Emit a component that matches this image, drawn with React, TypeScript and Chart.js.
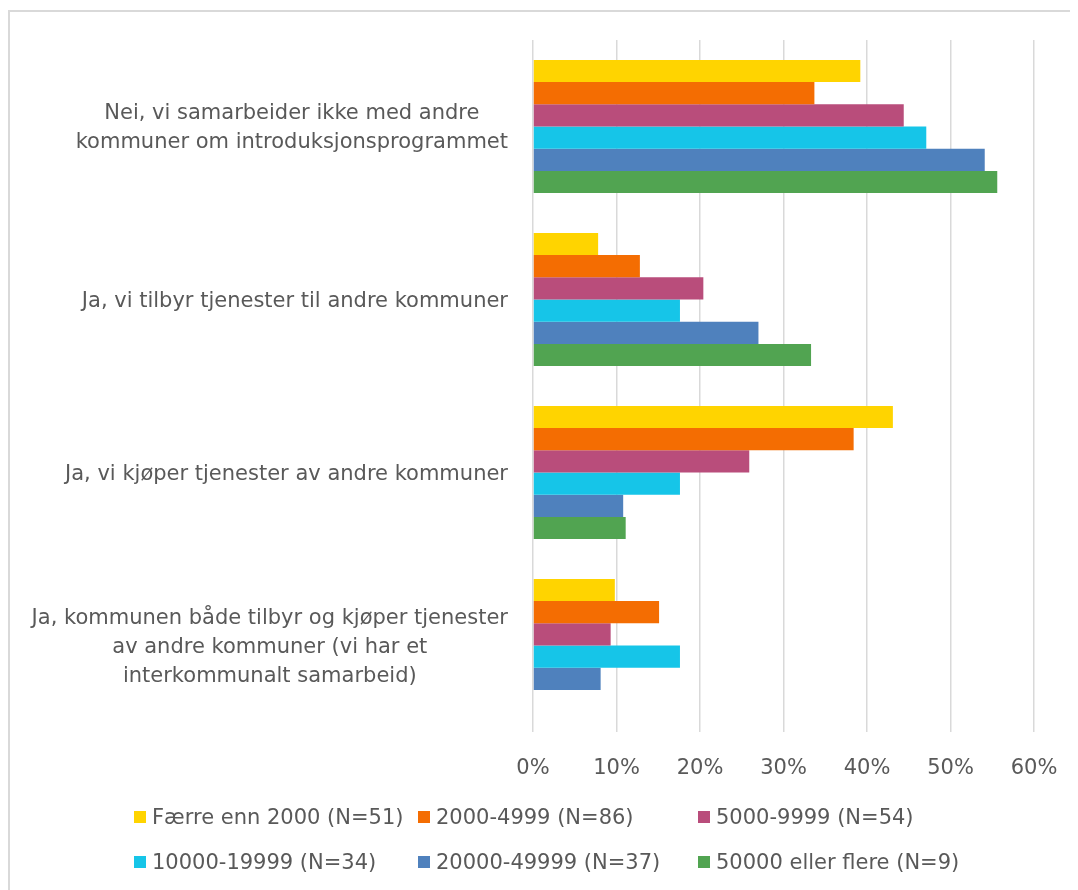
import React, { useEffect, useRef } from 'react';
import { Chart, registerables } from 'chart.js';

Chart.register(...registerables);

// ---------- data ----------
const categories: string[][] = [
  ['Nei, vi samarbeider ikke med andre', 'kommuner om introduksjonsprogrammet'],
  ['Ja, vi tilbyr tjenester til andre kommuner'],
  ['Ja, vi kjøper tjenester av andre kommuner'],
  ['Ja, kommunen både tilbyr og kjøper tjenester', 'av andre kommuner (vi har et', 'interkommunalt samarbeid)'],
];

const seriesLabels = [
  'Færre enn 2000 (N=51)',
  '2000-4999 (N=86)',
  '5000-9999 (N=54)',
  '10000-19999 (N=34)',
  '20000-49999 (N=37)',
  '50000 eller flere (N=9)',
];

const seriesColors = ['#FFD400', '#F46D02', '#B94D7B', '#16C5E8', '#4F81BD', '#51A451'];

const under2000 = [39.2, 7.8, 43.1, 9.8];
const from2000 = [33.7, 12.8, 38.4, 15.1];
const from5000 = [44.4, 20.4, 25.9, 9.3];
const from10000 = [47.1, 17.6, 17.6, 17.6];
const from20000 = [54.1, 27.0, 10.8, 8.1];
const from50000 = [55.6, 33.3, 11.1, 0];

const seriesValues = [under2000, from2000, from5000, from10000, from20000, from50000];

const xTickValues = [0, 10, 20, 30, 40, 50, 60];

// ---------- layout ----------
const W = 1070;
const H = 882;
const FONT = '21px "DejaVu Sans"';
const TEXT_COLOR = '#595959';
const GRID_COLOR = '#d9d9d9';
const LABEL_RIGHT = 500;
const LINE_H = 29;
const TEXT_DY = 2;
const LEGEND_BOX_X = [126, 410, 690];
const LEGEND_ROW_Y = [809, 854];
const LEGEND_BOX = 12;

const customPlugin = {
  id: 'customDraw',
  beforeDraw(chart: any) {
    const ctx = chart.ctx;
    ctx.save();
    ctx.fillStyle = GRID_COLOR;
    ctx.fillRect(0, 2, 2, chart.height);
    ctx.fillRect(0, 2, chart.width, 2);
    ctx.restore();
  },
  afterDraw(chart: any) {
    const ctx = chart.ctx;
    const yScale = chart.scales.y;
    ctx.save();
    ctx.font = FONT;
    ctx.fillStyle = TEXT_COLOR;
    ctx.textAlign = 'center';
    ctx.textBaseline = 'middle';
    categories.forEach((lines, i) => {
      const cy = yScale.getPixelForValue(i) + TEXT_DY;
      const maxW = Math.max(...lines.map((l) => ctx.measureText(l).width));
      const cx = LABEL_RIGHT - maxW / 2;
      lines.forEach((l, j) => {
        ctx.fillText(l, cx, cy + (j - (lines.length - 1) / 2) * LINE_H);
      });
    });
    // legend
    ctx.textAlign = 'left';
    chart.data.datasets.forEach((ds: any, i: number) => {
      const col = i % 3;
      const row = Math.floor(i / 3);
      const bx = LEGEND_BOX_X[col];
      const cy = LEGEND_ROW_Y[row];
      ctx.fillStyle = ds.backgroundColor;
      ctx.fillRect(bx, cy - LEGEND_BOX / 2, LEGEND_BOX, LEGEND_BOX);
      ctx.fillStyle = TEXT_COLOR;
      ctx.fillText(ds.label, bx + 18, cy + TEXT_DY);
    });
    ctx.restore();
  },
};

export default function App() {
  const canvasRef = useRef<HTMLCanvasElement | null>(null);

  useEffect(() => {
    document.body.style.overflow = 'hidden';
    const canvas = canvasRef.current;
    if (!canvas) return;
    const chart = new Chart(canvas, {
      type: 'bar',
      data: {
        labels: categories.map((c) => c.join(' ')),
        datasets: seriesLabels.map((label, i) => ({
          label,
          data: seriesValues[i],
          backgroundColor: seriesColors[i],
          borderWidth: 0,
          categoryPercentage: 0.77,
          barPercentage: 1.0,
        })),
      },
      options: {
        indexAxis: 'y',
        responsive: false,
        animation: false,
        layout: { padding: { left: 525, right: 44, top: 32, bottom: 98 } },
        plugins: {
          legend: { display: false },
          tooltip: { enabled: false },
        },
        scales: {
          x: {
            min: 0,
            max: 60,
            afterFit: (scale: any) => {
              scale.height = 60;
            },
            afterBuildTicks: (scale: any) => {
              scale.ticks = xTickValues.map((v) => ({ value: v }));
            },
            ticks: {
              font: { family: 'DejaVu Sans', size: 21 },
              color: TEXT_COLOR,
              padding: 0,
              callback: (v: any) => v + '%',
            },
            grid: {
              color: GRID_COLOR,
              lineWidth: 1.5,
              drawTicks: true,
              tickLength: 24,
              tickColor: 'rgba(0,0,0,0)',
            },
            border: { display: false },
          },
          y: {
            display: false,
          },
        },
      },
      plugins: [customPlugin],
    });
    return () => chart.destroy();
  }, []);

  return (
    <div style={{ width: W, height: H, overflow: 'hidden', background: '#fff' }}>
      <canvas ref={canvasRef} width={W} height={H} style={{ display: 'block' }} />
    </div>
  );
}
